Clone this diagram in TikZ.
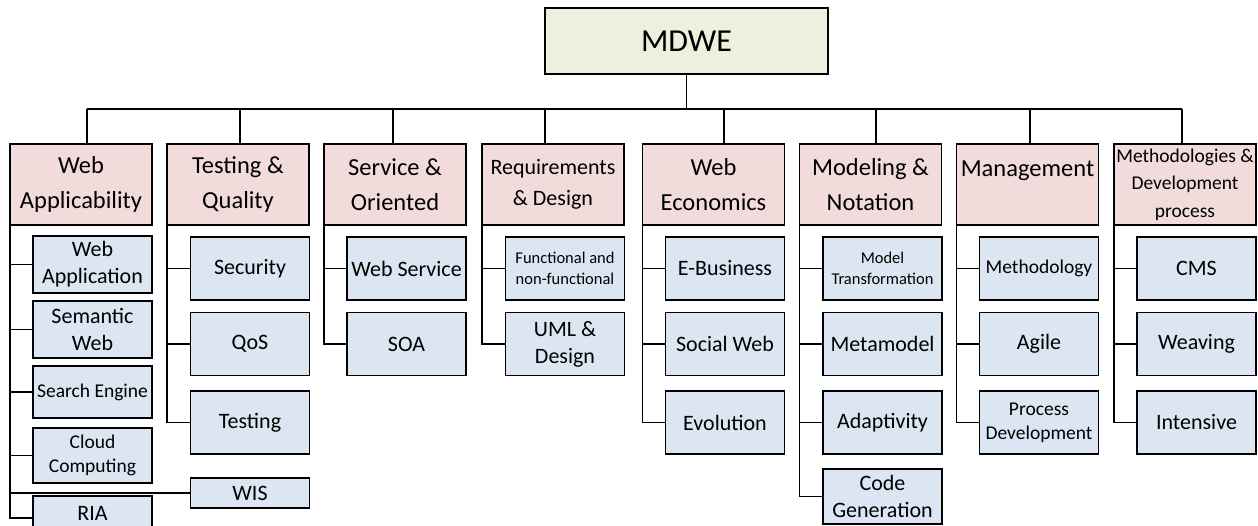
\documentclass[tikz,border=0pt]{standalone}
\usepackage{fontspec}
\setmainfont{Carlito}
\usetikzlibrary{positioning}
\definecolor{rootfill}{HTML}{EBF1DE}
\definecolor{catfill}{HTML}{F2DCDB}
\definecolor{subfill}{HTML}{DCE6F2}

\begin{document}
\begin{tikzpicture}[x=1pt, y=-1pt,
    root/.style={draw, line width=1.9pt, fill=rootfill, minimum width=283pt, minimum height=66pt,
                 inner sep=0pt, outer sep=0pt, font=\fontsize{32}{38}\selectfont},
    cat/.style={draw, line width=1.9pt, fill=catfill, minimum width=142pt, minimum height=81pt,
                inner sep=0pt, outer sep=0pt, align=center, font=\fontsize{24.5}{35}\selectfont},
    sub/.style={draw, line width=1.9pt, fill=subfill, minimum width=119pt, minimum height=63pt,
                inner sep=0pt, outer sep=0pt, align=center, font=\fontsize{22}{27}\selectfont},
    mid/.style={font=\fontsize{19.5}{24}\selectfont},
    tiny/.style={font=\fontsize{16.5}{20.5}\selectfont},
    link/.style={line width=1.9pt}]
    \useasboundingbox (0,0) rectangle (1258,526);

    % Root
    \node[root] (root) at (686.5,41) {MDWE};
    \coordinate (bus) at (686.5,109);

    % Categories
    \node[cat] (cat1) at (81,184.5) {Web\\Applicability};
    \node[cat] (cat2) at (238,184.5) {Testing \&\\Quality};
    \node[cat] (cat3) at (395,184.5) {Service \&\\Oriented};
    \node[cat, font=\fontsize{22}{31}\selectfont] (cat4) at (553,184.5) {Requirements\\\& Design};
    \node[cat] (cat5) at (713.5,184.5) {Web\\Economics};
    \node[cat] (cat6) at (870.5,184.5) {Modeling \&\\Notation};
    \node[cat, text depth=31pt] (cat7) at (1027.5,184.5) {Management};
    \node[cat, font=\fontsize{19.5}{27.5}\selectfont] (cat8) at (1185,184.5) {Methodologies \&\\Development\\process};

    % Web Applicability
    \node[sub, minimum height=57pt] (wa1) at (92.5,264.5) {Web\\Application};
    \node[sub, minimum height=57pt] (wa2) at (92.5,329.5) {Semantic\\Web};
    \node[sub, mid, minimum height=52pt] (wa3) at (92.5,392) {Search Engine};
    \node[sub, mid, minimum height=55pt] (wa4) at (92.5,455.5) {Cloud\\Computing};
    \node[sub, minimum height=44pt, text depth=10pt] (wa5) at (92.5,518) {RIA};
    \node[sub, minimum height=30pt] (wis) at (250,493) {WIS};

    % Testing & Quality
    \node[sub] (tq1) at (250,268.5) {Security};
    \node[sub] (tq2) at (250,344) {QoS};
    \node[sub] (tq3) at (250,422.5) {Testing};

    % Service & Oriented
    \node[sub] (so1) at (406.5,268.5) {Web Service};
    \node[sub] (so2) at (406.5,344) {SOA};

    % Requirements & Design
    \node[sub, tiny] (rd1) at (565,268.5) {Functional and\\non-functional};
    \node[sub] (rd2) at (565,344) {UML \&\\Design};

    % Web Economics
    \node[sub] (we1) at (725,268.5) {E-Business};
    \node[sub] (we2) at (725,344) {Social Web};
    \node[sub] (we3) at (725,422.5) {Evolution};

    % Modeling & Notation
    \node[sub, tiny] (mn1) at (882.5,268.5) {Model\\Transformation};
    \node[sub] (mn2) at (882.5,344) {Metamodel};
    \node[sub] (mn3) at (882.5,422.5) {Adaptivity};
    \node[sub, minimum height=55pt] (mn4) at (882.5,496.5) {Code\\Generation};

    % Management
    \node[sub, mid] (mg1) at (1039,268.5) {Methodology};
    \node[sub] (mg2) at (1039,344) {Agile};
    \node[sub, mid] (mg3) at (1039,422.5) {Process\\Development};

    % Methodologies & Development process
    \node[sub] (md1) at (1196.5,268.5) {CMS};
    \node[sub] (md2) at (1196.5,344) {Weaving};
    \node[sub] (md3) at (1196.5,422.5) {Intensive};

    % Links
    \draw[link] (root.south) -- (bus);
    \draw[link] ([xshift=6pt]bus -| cat1.north) -- ([xshift=-3pt]bus -| cat8.north);
    \foreach \i/\dx in {1/6, 2/2, 3/-2, 4/-8, 5/10.5, 6/5.5, 7/2.5, 8/-3}
        \draw[link] ([xshift=\dx pt]bus -| cat\i.north) -- ([xshift=\dx pt]cat\i.north);

    \foreach \n in {wa1,wa2,wa3,wa4,wa5,wis}
        \draw[link] (cat1.south west) |- (\n.west);
    \foreach \n in {tq1,tq2,tq3}
        \draw[link] (cat2.south west) |- (\n.west);
    \foreach \n in {so1,so2}
        \draw[link] (cat3.south west) |- (\n.west);
    \foreach \n in {rd1,rd2}
        \draw[link] (cat4.south west) |- (\n.west);
    \foreach \n in {we1,we2,we3}
        \draw[link] (cat5.south west) |- (\n.west);
    \foreach \n in {mn1,mn2,mn3,mn4}
        \draw[link] (cat6.south west) |- (\n.west);
    \foreach \n in {mg1,mg2,mg3}
        \draw[link] (cat7.south west) |- (\n.west);
    \foreach \n in {md1,md2,md3}
        \draw[link] (cat8.south west) |- (\n.west);
\end{tikzpicture}
\end{document}
